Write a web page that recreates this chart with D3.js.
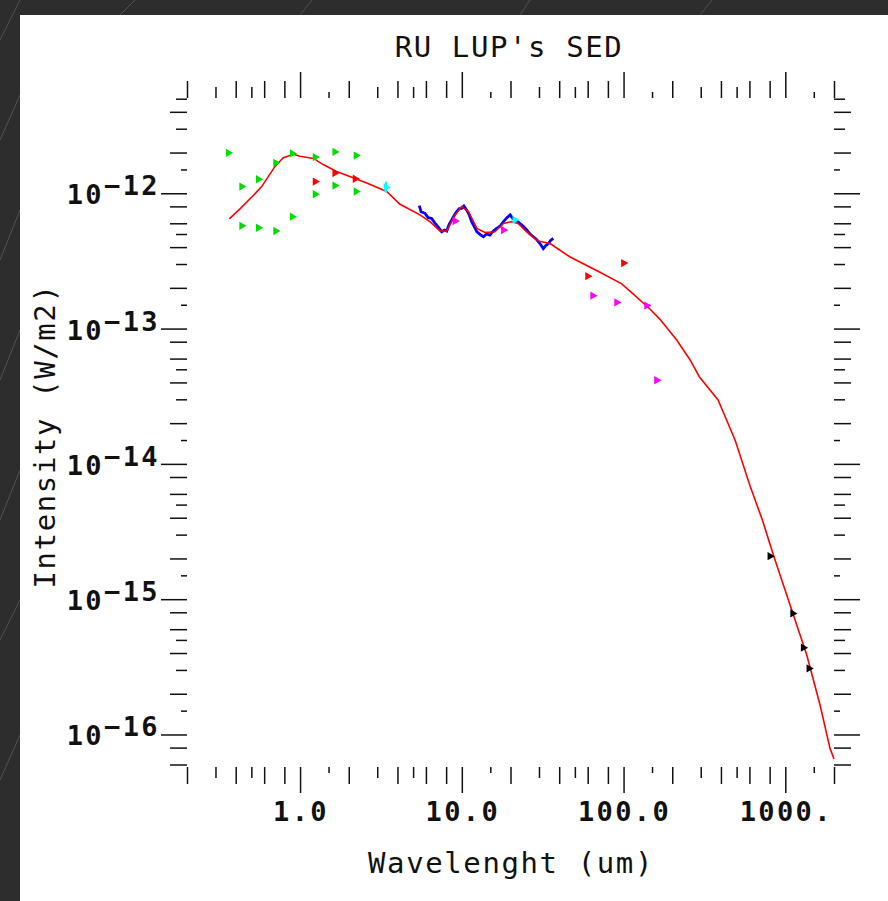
<!DOCTYPE html>
<html lang="en">
<head>
<meta charset="UTF-8">
<title>RU LUP's SED</title>
<script src="https://d3js.org/d3.v7.min.js"></script>
<style>
  body { margin: 0; background: #2b2b2b; }
  svg { display: block; }
  .ttl { font-family: "DejaVu Sans Mono", monospace; font-size: 29px; letter-spacing: 1.6px; fill: #111; }
  .lbl { font-family: "DejaVu Sans Mono", monospace; font-size: 27px; font-weight: bold; letter-spacing: 2.4px; fill: #111; }
</style>
</head>
<body>
<script>
// model SED (red line): wavelength (um), flux (W/m2)
const modelLam = [0.365, 0.425, 0.514, 0.579, 0.700, 0.788, 0.908, 1.00, 1.21, 1.39, 1.68, 2.13, 2.58, 3.43, 4.15,
  5.51, 6.35, 7.33, 8.07, 9.08, 9.98, 11.0, 12.4, 13.9, 16.0, 18.1, 20.3, 22.3, 25.2, 29.7, 35.1, 46.7, 71.5,
  97.4, 115, 146, 168, 213, 258, 294, 384, 489, 605, 725, 843, 1069, 1356, 1638, 1889, 2000];
const modelFlux = [6.46e-13, 7.66e-13, 9.63e-13, 1.12e-12, 1.58e-12, 1.83e-12, 1.94e-12, 1.88e-12, 1.81e-12, 1.63e-12,
  1.45e-12, 1.30e-12, 1.19e-12, 1.03e-12, 8.30e-13, 6.92e-13, 6.17e-13, 5.26e-13, 5.26e-13, 6.92e-13, 7.97e-13,
  7.31e-13, 5.50e-13, 5.13e-13, 5.19e-13, 5.98e-13, 6.17e-13, 5.98e-13, 5.19e-13, 4.43e-13, 4.25e-13, 3.38e-13,
  2.61e-13, 2.14e-13, 1.80e-13, 1.39e-13, 1.17e-13, 8.24e-14, 5.86e-14, 4.41e-14, 2.97e-14, 1.50e-14, 6.90e-15,
  3.78e-15, 2.13e-15, 9.10e-16, 3.88e-16, 1.66e-16, 7.90e-17, 6.60e-17];

// IRS spectrum (blue)
const specLam = [5.46, 5.60, 5.92, 6.20, 6.51, 6.80, 6.99, 7.25, 7.51, 7.80, 8.07, 8.35, 8.66, 9.00, 9.30, 9.65, 9.98,
  10.3, 10.7, 11.1, 11.5, 12.0, 12.4, 13.0, 13.6, 14.2, 14.9, 15.6, 16.4, 17.2, 18.1, 19.0, 19.9, 20.6, 21.3, 22.1,
  22.9, 24.0, 25.2, 26.4, 27.7, 29.0, 30.4, 31.9, 33.0, 34.3, 35.5, 36.8];
const specFlux = [8.11e-13, 7.30e-13, 7.11e-13, 6.60e-13, 6.52e-13, 6.05e-13, 5.82e-13, 5.50e-13, 5.19e-13, 5.35e-13,
  5.26e-13, 5.90e-13, 6.35e-13, 6.90e-13, 7.31e-13, 7.70e-13, 7.74e-13, 8.05e-13, 7.54e-13, 6.95e-13, 6.17e-13,
  5.60e-13, 5.19e-13, 4.95e-13, 4.77e-13, 5.00e-13, 4.91e-13, 5.25e-13, 5.50e-13, 5.70e-13, 6.17e-13, 6.60e-13,
  6.92e-13, 6.55e-13, 6.35e-13, 6.20e-13, 5.98e-13, 5.70e-13, 5.35e-13, 5.00e-13, 4.77e-13, 4.55e-13, 4.25e-13,
  3.90e-13, 4.10e-13, 4.25e-13, 4.50e-13, 4.63e-13];

// photometry
const greenLam = [0.360, 0.436, 0.552, 0.436, 0.552, 0.707, 0.707, 0.895, 0.895, 1.24, 1.24, 1.64, 1.64, 2.22, 2.22];
const greenFlux = [1.99e-12, 1.12e-12, 1.27e-12, 5.75e-13, 5.56e-13, 5.26e-13, 1.68e-12, 1.97e-12, 6.72e-13,
  1.85e-12, 9.84e-13, 2.02e-12, 1.14e-12, 1.90e-12, 1.03e-12];
const redLam = [1.24, 1.64, 2.19, 60.0, 100];
const redFlux = [1.22e-12, 1.41e-12, 1.28e-12, 2.44e-13, 3.05e-13];
const cyanLam = [3.40, 21.3];
const cyanFlux = [1.11e-12, 6.35e-13];
const cyanLow = [1.01e-12, 6.35e-13];
const cyanHigh = [1.22e-12, 6.35e-13];
const magentaLam = [9.08, 18.1, 64.5, 90.7, 139, 160];
const magentaFlux = [6.24e-13, 5.35e-13, 1.75e-13, 1.56e-13, 1.48e-13, 4.15e-14];
const blackLam = [804, 1111, 1292, 1400];
const blackFlux = [2.08e-15, 7.85e-16, 4.38e-16, 3.08e-16];

// axes
const xDomain = [0.2, 2000];
const yDomain = [5.75e-17, 5e-12];
const tickMult = [1, 1.5, 2, 3, 4, 5, 6, 8];
const tickKind = ["long", "tiny", "med", "short", "med", "short", "med", "med"];
const xMajor = [1, 10, 100, 1000];
const xMajorLabels = ["1.0", "10.0", "100.0", "1000."];
const yMajorExp = [-12, -13, -14, -15, -16];

const W = 888, H = 901;
const tickLen = { tiny: 6, short: 11, med: 17, long: 26 };

const svg = d3.select("body").append("svg").attr("width", W).attr("height", H);

// dark page background with a few light streaks
const streaks = [[0, 40, 20, 0], [0, 140, 20, 95], [0, 260, 20, 210], [0, 380, 20, 330], [0, 520, 20, 470],
  [0, 640, 20, 600], [0, 780, 20, 735], [120, 15, 135, 0], [300, 15, 312, 0], [520, 15, 530, 0], [700, 15, 712, 0]];
svg.append("rect").attr("width", W).attr("height", H).attr("fill", "#2d2d2e");
svg.selectAll("line.streak").data(streaks).enter().append("line")
  .attr("x1", d => d[0]).attr("y1", d => d[1]).attr("x2", d => d[2]).attr("y2", d => d[3])
  .attr("stroke", "#6a6c70").attr("stroke-width", 1).attr("opacity", 0.6);
svg.append("rect").attr("x", 20).attr("y", 15).attr("width", W - 20).attr("height", H - 15).attr("fill", "#fff");

const x = d3.scaleLog().domain(xDomain).range([187, 834]);
const y = d3.scaleLog().domain(yDomain).range([767, 98.7]);

function tickList(domain) {
  const out = [];
  const e0 = Math.floor(Math.log10(domain[0])), e1 = Math.ceil(Math.log10(domain[1]));
  for (let e = e0; e <= e1; e++) {
    tickMult.forEach((m, i) => {
      const v = m * Math.pow(10, e);
      if (v >= domain[0] * 0.999 && v <= domain[1] * 1.001) out.push({ v: v, k: tickKind[i] });
    });
  }
  return out;
}
const xt = tickList(xDomain), yt = tickList(yDomain);
const kindOf = (list) => { const m = new Map(); list.forEach(t => m.set(t.v, t.k)); return v => tickLen[m.get(v)]; };
const xLen = kindOf(xt), yLen = kindOf(yt);

function styleAxis(g, len, sign, horiz) {
  g.select(".domain").remove();
  g.selectAll(".tick line")
    .attr("stroke", "#111").attr("stroke-width", 1.5)
    .attr(horiz ? "y2" : "x2", d => sign * len(d));
  g.selectAll(".tick text").remove();
}

const axTop = svg.append("g").attr("transform", "translate(0,98)")
  .call(d3.axisTop(x).tickValues(xt.map(t => t.v)).tickSize(10));
styleAxis(axTop, xLen, -1, true);
const axBot = svg.append("g").attr("transform", "translate(0,767)")
  .call(d3.axisBottom(x).tickValues(xt.map(t => t.v)).tickSize(10));
styleAxis(axBot, xLen, 1, true);
const axLeft = svg.append("g").attr("transform", "translate(187,0)")
  .call(d3.axisLeft(y).tickValues(yt.map(t => t.v)).tickSize(10));
styleAxis(axLeft, yLen, -1, false);
const axRight = svg.append("g").attr("transform", "translate(834,0)")
  .call(d3.axisRight(y).tickValues(yt.map(t => t.v)).tickSize(10));
styleAxis(axRight, yLen, 1, false);

// tick labels
svg.append("g").selectAll("text").data(xMajor).enter().append("text")
  .attr("class", "lbl").attr("text-anchor", "middle")
  .attr("x", d => x(d) + 1).attr("y", 821)
  .text((d, i) => xMajorLabels[i]);

const yl = svg.append("g").selectAll("text").data(yMajorExp).enter().append("text")
  .attr("class", "lbl").attr("text-anchor", "end")
  .attr("x", 160).attr("y", d => y(Math.pow(10, d)) + 11);
yl.append("tspan").text("10");
yl.append("tspan").attr("dy", -9).text(d => "\u2212" + Math.abs(d));

// titles
svg.append("text").attr("class", "ttl").attr("text-anchor", "middle")
  .attr("x", 509).attr("y", 57).text("RU LUP's SED");
svg.append("text").attr("class", "ttl").attr("text-anchor", "middle")
  .attr("x", 511).attr("y", 873).text("Wavelenght (um)");
svg.append("text").attr("class", "ttl").attr("text-anchor", "middle")
  .attr("transform", "translate(55,436) rotate(-90)").text("Intensity (W/m2)");

// lines
const line = d3.line().x(d => x(d[0])).y(d => y(d[1]));
svg.append("path").datum(d3.zip(specLam, specFlux))
  .attr("d", line).attr("fill", "none").attr("stroke", "#0000ff").attr("stroke-width", 2.8);
svg.append("path").datum(d3.zip(modelLam, modelFlux))
  .attr("d", line).attr("fill", "none").attr("stroke", "#ff0000").attr("stroke-width", 1.6);

// error bars (cyan)
svg.append("g").selectAll("line").data(d3.zip(cyanLam, cyanLow, cyanHigh)).enter().append("line")
  .attr("x1", d => x(d[0])).attr("x2", d => x(d[0]))
  .attr("y1", d => y(d[1])).attr("y2", d => y(d[2]))
  .attr("stroke", "#00ffff").attr("stroke-width", 2);

// markers: right-pointing triangles
const tri = d3.symbol().type(d3.symbolTriangle).size(30);
function markers(lam, flux, color) {
  svg.append("g").selectAll("path").data(d3.zip(lam, flux)).enter().append("path")
    .attr("d", tri)
    .attr("transform", d => `translate(${x(d[0])},${y(d[1])}) rotate(90)`)
    .attr("fill", color);
}
markers(greenLam, greenFlux, "#00dd00");
markers(redLam, redFlux, "#ff0000");
markers(cyanLam, cyanFlux, "#00ffff");
markers(magentaLam, magentaFlux, "#ff00ff");
markers(blackLam, blackFlux, "#000000");
</script>
</body>
</html>
